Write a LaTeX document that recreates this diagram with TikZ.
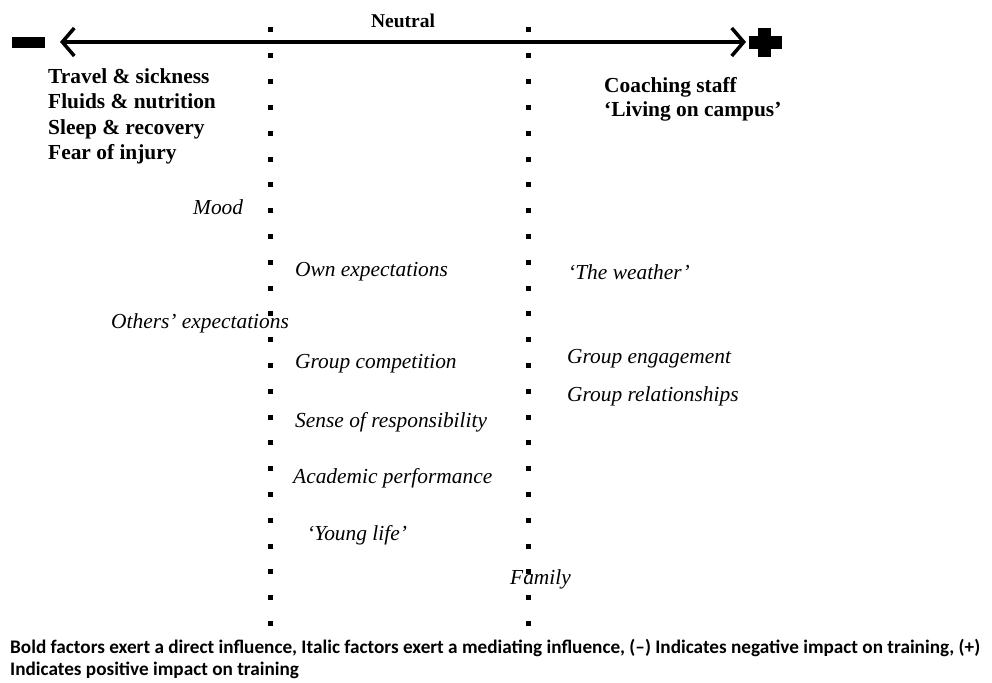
\documentclass[tikz,border=0pt]{standalone}
\usepackage{fontspec}
\setmainfont{Liberation Serif}
\newfontfamily\capfont{Carlito}
\usetikzlibrary{arrows.meta}
\begin{document}
\begin{tikzpicture}[x=1pt,y=-1pt,
  direct/.style={anchor=base west,inner sep=0pt,font=\fontsize{21.4}{21.4}\selectfont\bfseries},
  mediating/.style={anchor=base west,inner sep=0pt,font=\fontsize{21.4}{21.4}\selectfont\itshape},
  dotmark/.style={fill=black},
  axis/.style={line width=3.5pt,{Straight Barb[length=12pt,width=28pt,line width=3.5pt]}-{Straight Barb[length=12pt,width=28pt,line width=3.5pt]}}]
\useasboundingbox (0,0) rectangle (992,682);
% dotted columns
\foreach \yy in {0,...,23}{
  \fill[dotmark] (267.5,{30+25.8*\yy-2.5}) rectangle ++(5,5);
  \fill[dotmark] (525.5,{30+25.8*\yy-2.5}) rectangle ++(5,5);
}
% axis
\coordinate (L) at (60,42);
\coordinate (R) at (746,42);
\draw[axis] (L) -- (R);
\fill (12,37) rectangle (45,48);
\fill (758,28) rectangle (771,57);
\fill (749,36) rectangle (782,49);
\node[anchor=base,inner sep=0pt,font=\fontsize{19.5}{19.5}\selectfont\bfseries] (neutral) at (403,28) {Neutral};
% direct factors
\node[direct] (t1) at (48,84) {Travel \& sickness};
\node[direct] (t2) at (48,109) {Fluids \& nutrition};
\node[direct] (t3) at (48,134) {Sleep \& recovery};
\node[direct] (t4) at (48,159) {Fear of injury};
\node[direct] (c1) at (604,93) {Coaching staff};
\node[direct] (c2) at (604,117) {`Living on campus'};
% mediating factors
\node[mediating] (m1) at (193,214) {Mood};
\node[mediating] (m2) at (295,276) {Own expectations};
\node[mediating] (m3) at (568,279) {`The weather'};
\node[mediating] (m4) at (111,328) {Others' expectations};
\node[mediating] (m5) at (295,368) {Group competition};
\node[mediating] (m6) at (567,363) {Group engagement};
\node[mediating] (m7) at (567,401) {Group relationships};
\node[mediating] (m8) at (295,427) {Sense of responsibility};
\node[mediating] (m9) at (293,483) {Academic performance};
\node[mediating] (m10) at (307,540) {`Young life'};
\node[mediating] (m11) at (510,584) {Family};
% caption
\node[anchor=base west,inner sep=0pt,align=left,font=\capfont\fontsize{19.2}{22}\selectfont\bfseries] (cap) at (10,675)
  {Bold factors exert a direct influence, Italic factors exert a mediating influence, (–) Indicates negative impact on training, (+)\\Indicates positive impact on training};
\end{tikzpicture}
\end{document}
